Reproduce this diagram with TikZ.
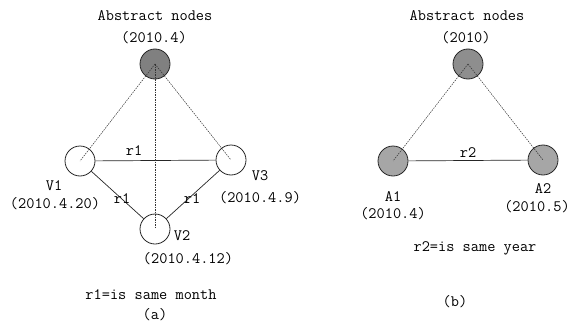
\documentclass[tikz,border=0pt]{standalone}
\usepackage{fontspec}
\usepackage{xcolor}
\usetikzlibrary{positioning}
\definecolor{absdark}{HTML}{808080}
\definecolor{absmid}{HTML}{8E8E8E}
\definecolor{attrfill}{HTML}{A6A6A6}

\begin{document}
\begin{tikzpicture}[x=1pt, y=-1pt,
  font=\ttfamily\fontsize{15.9}{18}\selectfont,
  vert/.style={circle, draw=black!85, line width=0.8pt, fill=#1,
               minimum size=30pt, inner sep=0pt},
  vert/.default=white,
  lbl/.style={inner sep=0pt, anchor=base},
  rel/.style={black!85, line width=0.7pt},
  link/.style={black!80, line width=0.5pt, dash pattern=on 1.5pt off 1pt}]
\useasboundingbox (0,0) rectangle (572,329);
% (a) month level
\node[lbl] (absA)  at (155, 21) {Abstract nodes};
\node[lbl] (absAd) at (154, 42) {(2010.4)};
\node[vert=absdark] (ta) at (155, 64)  {};
\node[vert] (v1) at (80, 161)  {};
\node[vert] (v3) at (231, 160) {};
\node[vert] (v2) at (155, 229) {};
\node[lbl] (v1l) at (54, 190)  {V1};
\node[lbl] (v1d) at (55, 208)  {(2010.4.20)};
\node[lbl] (v3l) at (260, 180) {V3};
\node[lbl] (v3d) at (260, 202) {(2010.4.9)};
\node[lbl] (v2l) at (182, 240) {V2};
\node[lbl] (v2d) at (188, 263) {(2010.4.12)};
\draw[rel] (v1) -- (v3);
\draw[rel] (v1) -- (v2);
\draw[rel] (v2) -- (v3);
\node[lbl] (r1a) at (134, 155) {r1};
\node[lbl] (r1b) at (122, 203) {r1};
\node[lbl] (r1c) at (192, 203) {r1};
\foreach \n in {v1, v2, v3} \draw[link] (ta.center) -- (\n.center);
\node[lbl] (defA) at (151, 299) {r1=is same month};
\node[lbl] (capA) at (155, 319) {(a)};
% (b) year level
\node[lbl] (absB)  at (467, 21) {Abstract nodes};
\node[lbl] (absBd) at (466, 42) {(2010)};
\node[vert=absmid] (tb) at (468, 64) {};
\node[vert=attrfill] (a1) at (393, 161) {};
\node[vert=attrfill] (a2) at (543, 160) {};
\node[lbl] (a1l) at (393, 201) {A1};
\node[lbl] (a1d) at (393, 218) {(2010.4)};
\node[lbl] (a2l) at (543, 193) {A2};
\node[lbl] (a2d) at (537, 211) {(2010.5)};
\draw[rel] (a1) -- (a2);
\node[lbl] (r2a) at (468, 157) {r2};
\foreach \n in {a1, a2} \draw[link] (tb.center) -- (\n.center);
\node[lbl] (defB) at (475, 251) {r2=is same year};
\node[lbl] (capB) at (455, 306) {(b)};
\end{tikzpicture}
\end{document}
